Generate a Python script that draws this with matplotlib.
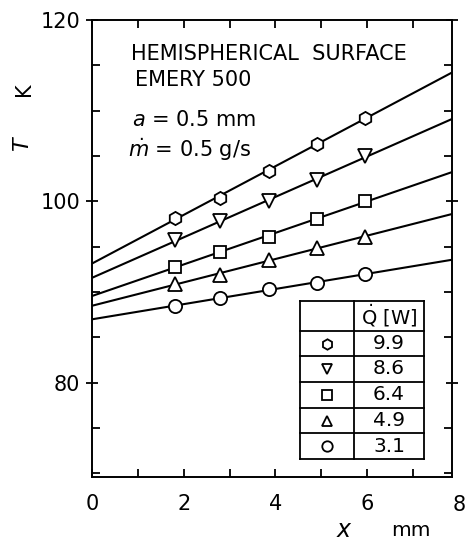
import numpy as np
import matplotlib
matplotlib.use("Agg")
import matplotlib.pyplot as plt
from matplotlib.ticker import MultipleLocator, FixedLocator
from matplotlib.transforms import ScaledTranslation

# ---- data ----
x_pos = [1.8, 2.8, 3.85, 4.9, 5.95]
Q_labels = ["9.9", "8.6", "6.4", "4.9", "3.1"]
T_99 = [98.2, 100.4, 103.4, 106.3, 109.2]
T_86 = [95.7, 97.8, 100.0, 102.4, 105.0]
T_64 = [92.8, 94.4, 96.1, 98.1, 100.0]
T_49 = [90.9, 91.9, 93.5, 94.9, 96.1]
T_31 = [88.5, 89.3, 90.3, 91.0, 92.0]
series = [T_99, T_86, T_64, T_49, T_31]
markers = ["h", "v", "s", "^", "o"]
x_ticks = [0, 2, 4, 6]
y_ticks = [80, 100, 120]

plt.rcParams['font.family'] = ['DejaVu Sans']
plt.rcParams['mathtext.fontset'] = 'dejavusans'

W, H = 465, 542
fig = plt.figure(figsize=(W / 100, H / 100), dpi=100)

def fx(px):
    return px / W

def fy(py):
    return 1 - py / H

L, R, T, B = 92, 452, 20, 477
ax = fig.add_axes([fx(L), fy(B), fx(R) - fx(L), fy(T) - fy(B)])
xmax = 7.85
ymin = 69.6
ax.set_xlim(0, xmax)
ax.set_ylim(ymin, 120)

xs = np.array([0, xmax])
for ys, m in zip(series, markers):
    k, b = np.polyfit(x_pos, ys, 1)
    ax.plot(xs, k * xs + b, color='black', lw=1.5, zorder=2)
    ax.plot(x_pos, ys, linestyle='none', marker=m, markersize=9.5 if m != 's' else 8.5,
            markerfacecolor='white', markeredgecolor='black', markeredgewidth=1.3, zorder=3)

for s in ax.spines.values():
    s.set_linewidth(1.4)

tfs = 15
ax.xaxis.set_major_locator(FixedLocator(x_ticks))
ax.xaxis.set_minor_locator(MultipleLocator(1))
ax.yaxis.set_major_locator(FixedLocator(y_ticks))
ax.yaxis.set_minor_locator(MultipleLocator(5))
ax.tick_params(which='both', direction='in', top=True, right=True, width=1.3)
ax.tick_params(which='major', length=6, labelsize=tfs)
ax.tick_params(which='minor', length=6)
ax.tick_params(axis='y', which='major', direction='inout', length=9, pad=4)
ax.tick_params(axis='x', which='major', pad=12)
ax.text(8, ymin, "8", ha='center', va='top', fontsize=tfs, clip_on=False,
        transform=ax.transData + ScaledTranslation(0, -18 / 100, fig.dpi_scale_trans))

# axis labels
fig.text(fx(23), fy(143), "$T$", rotation=90, ha='center', va='center', fontsize=16)
fig.text(fx(24), fy(89), "K", rotation=90, ha='center', va='center', fontsize=15)
fig.text(fx(344), fy(530), "$x$", ha='center', va='center', fontsize=17)
fig.text(fx(411), fy(530), "mm", ha='center', va='center', fontsize=14.5)

# annotations
fs = 15
fig.text(fx(131), fy(54), "HEMISPHERICAL  SURFACE", ha='left', va='center', fontsize=fs)
fig.text(fx(135), fy(80), "EMERY 500", ha='left', va='center', fontsize=fs)
fig.text(fx(132), fy(120), r"$\mathit{a}$ = 0.5 mm", ha='left', va='center', fontsize=fs)
fig.text(fx(128), fy(150), r"$\dot{m}$ = 0.5 g/s", ha='left', va='center', fontsize=fs)

# legend table
tl, tr, tc = 300, 424, 354
rows = [301, 331, 356, 382, 408, 433, 459]
lw = 1.3
for yy in rows:
    fig.add_artist(plt.Line2D([fx(tl), fx(tr)], [fy(yy), fy(yy)], color='black', lw=lw))
for xx in (tl, tc, tr):
    fig.add_artist(plt.Line2D([fx(xx), fx(xx)], [fy(rows[0]), fy(rows[-1])], color='black', lw=lw))
hc = (rows[0] + rows[1]) / 2
fig.text(fx((tc + tr) / 2), fy(hc), r"$\dot{\mathrm{Q}}$ [W]", ha='center', va='center', fontsize=14)
for i, (lab, m) in enumerate(zip(Q_labels, markers)):
    yc = (rows[i + 1] + rows[i + 2]) / 2
    fig.add_artist(plt.Line2D([fx((tl + tc) / 2)], [fy(yc)], linestyle='none', marker=m,
                              markersize=7.5 if m != 's' else 7, markerfacecolor='white',
                              markeredgecolor='black', markeredgewidth=1.3))
    fig.text(fx((tc + tr) / 2), fy(yc), lab, ha='center', va='center', fontsize=14.5)

fig.savefig("out.png", dpi=100)
